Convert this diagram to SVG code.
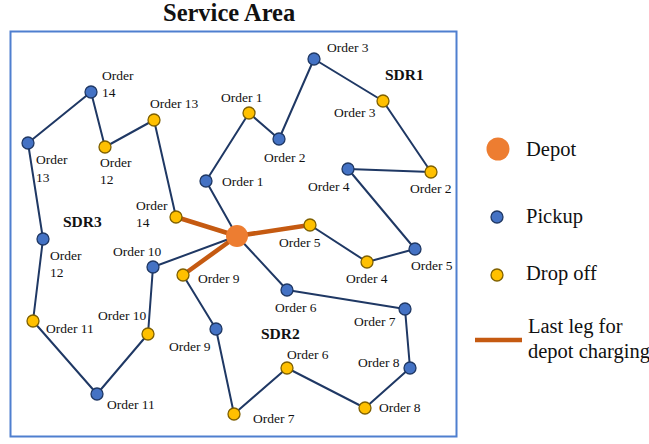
<svg xmlns="http://www.w3.org/2000/svg" width="649" height="444" viewBox="0 0 649 444" font-family="Liberation Serif, serif">
<style>
text{fill:#111;}
.lb{font-size:13.5px;}
.sdr{font-size:15.5px;font-weight:bold;}
.lg{font-size:20.5px;}
.e{fill:none;stroke:#1F3864;stroke-width:2;stroke-linejoin:round;}
.last{fill:none;stroke:#C55A11;stroke-width:4.5;stroke-linecap:round;}
.pu{fill:#4472C4;stroke:#1F3864;stroke-width:1.3;}
.dr{fill:#FFC000;stroke:#7F6000;stroke-width:1.3;}
.dp{fill:#ED7D31;}
</style>
<rect width="649" height="444" fill="#fff"/>
<text x="163" y="21" font-size="24.5" font-weight="bold">Service Area</text>
<rect x="10.5" y="31.5" width="446" height="405" fill="none" stroke="#4F7FCF" stroke-width="2"/>
<g id="connectors">
<polyline class="e" points="237,236 206,181 249,113 279,139 314,59 383,101 431,172 348,169 415,249 367,262 310,225"/>
<polyline class="e" points="237,236 287,290 405,309 410,368 365,408 287,368 234,414 216,329 183,275"/>
<polyline class="e" points="237,236 153,267 148,334 97,394 33,321 43,239 28,143 91,92 105,147 154,120 176,217"/>
<line class="last" x1="310" y1="225" x2="237" y2="236"/>
<line class="last" x1="183" y1="275" x2="237" y2="236"/>
<line class="last" x1="176" y1="217" x2="237" y2="236"/>
</g>
<g id="depot"><circle class="dp" cx="237" cy="236" r="11"/></g>
<g id="p1"><circle class="pu" cx="206" cy="181" r="6"/><text class="lb" x="222" y="186">Order 1</text></g>
<g id="d1"><circle class="dr" cx="249" cy="113" r="6"/><text class="lb" x="221" y="102">Order 1</text></g>
<g id="p2"><circle class="pu" cx="279" cy="139" r="6"/><text class="lb" x="264" y="162">Order 2</text></g>
<g id="p3"><circle class="pu" cx="314" cy="59" r="6"/><text class="lb" x="327" y="52">Order 3</text></g>
<g id="d3"><circle class="dr" cx="383" cy="101" r="6"/><text class="lb" x="334" y="117">Order 3</text></g>
<g id="d2"><circle class="dr" cx="431" cy="172" r="6"/><text class="lb" x="410" y="193">Order 2</text></g>
<g id="p4"><circle class="pu" cx="348" cy="169" r="6"/><text class="lb" x="308" y="191">Order 4</text></g>
<g id="p5"><circle class="pu" cx="415" cy="249" r="6"/><text class="lb" x="411" y="270">Order 5</text></g>
<g id="d4"><circle class="dr" cx="367" cy="262" r="6"/><text class="lb" x="346" y="283">Order 4</text></g>
<g id="d5"><circle class="dr" cx="310" cy="225" r="6"/><text class="lb" x="279" y="247">Order 5</text></g>
<g id="sdr1"><text class="sdr" x="385" y="80">SDR1</text></g>
<g id="p6"><circle class="pu" cx="287" cy="290" r="6"/><text class="lb" x="275" y="312">Order 6</text></g>
<g id="p7"><circle class="pu" cx="405" cy="309" r="6"/><text class="lb" x="354" y="326">Order 7</text></g>
<g id="p8"><circle class="pu" cx="410" cy="368" r="6"/><text class="lb" x="358" y="367">Order 8</text></g>
<g id="d8"><circle class="dr" cx="365" cy="408" r="6"/><text class="lb" x="379" y="412">Order 8</text></g>
<g id="d6"><circle class="dr" cx="287" cy="368" r="6"/><text class="lb" x="287" y="359">Order 6</text></g>
<g id="d7"><circle class="dr" cx="234" cy="414" r="6"/><text class="lb" x="253" y="423">Order 7</text></g>
<g id="p9"><circle class="pu" cx="216" cy="329" r="6"/><text class="lb" x="169" y="351">Order 9</text></g>
<g id="d9"><circle class="dr" cx="183" cy="275" r="6"/><text class="lb" x="198" y="283">Order 9</text></g>
<g id="sdr2"><text class="sdr" x="261" y="339">SDR2</text></g>
<g id="p10"><circle class="pu" cx="153" cy="267" r="6"/><text class="lb" x="113" y="256">Order 10</text></g>
<g id="d10"><circle class="dr" cx="148" cy="334" r="6"/><text class="lb" x="98" y="320">Order 10</text></g>
<g id="p11"><circle class="pu" cx="97" cy="394" r="6"/><text class="lb" x="107" y="409">Order 11</text></g>
<g id="d11"><circle class="dr" cx="33" cy="321" r="6"/><text class="lb" x="46" y="333">Order 11</text></g>
<g id="p12"><circle class="pu" cx="43" cy="239" r="6"/><text class="lb" x="50" y="260">Order</text><text class="lb" x="50" y="277">12</text></g>
<g id="p13"><circle class="pu" cx="28" cy="143" r="6"/><text class="lb" x="36" y="164">Order</text><text class="lb" x="36" y="182">13</text></g>
<g id="p14"><circle class="pu" cx="91" cy="92" r="6"/><text class="lb" x="102" y="80">Order</text><text class="lb" x="102" y="97">14</text></g>
<g id="d12"><circle class="dr" cx="105" cy="147" r="6"/><text class="lb" x="100" y="167">Order</text><text class="lb" x="100" y="184">12</text></g>
<g id="d13"><circle class="dr" cx="154" cy="120" r="6"/><text class="lb" x="150" y="108">Order 13</text></g>
<g id="d14"><circle class="dr" cx="176" cy="217" r="6"/><text class="lb" x="136" y="210">Order</text><text class="lb" x="136" y="227">14</text></g>
<g id="sdr3"><text class="sdr" x="63" y="227">SDR3</text></g>
<g id="legend">
<circle class="dp" cx="498" cy="149" r="11.5"/><text class="lg" x="526" y="156">Depot</text>
<circle class="pu" cx="497" cy="217" r="6"/><text class="lg" x="526" y="223">Pickup</text>
<circle class="dr" cx="497" cy="275" r="6"/><text class="lg" x="526" y="280">Drop off</text>
<line x1="475" y1="340" x2="522" y2="340" stroke="#C55A11" stroke-width="4.5"/>
<text class="lg" x="528" y="333">Last leg for</text>
<text class="lg" x="528" y="358">depot charging</text>
</g>
</svg>
